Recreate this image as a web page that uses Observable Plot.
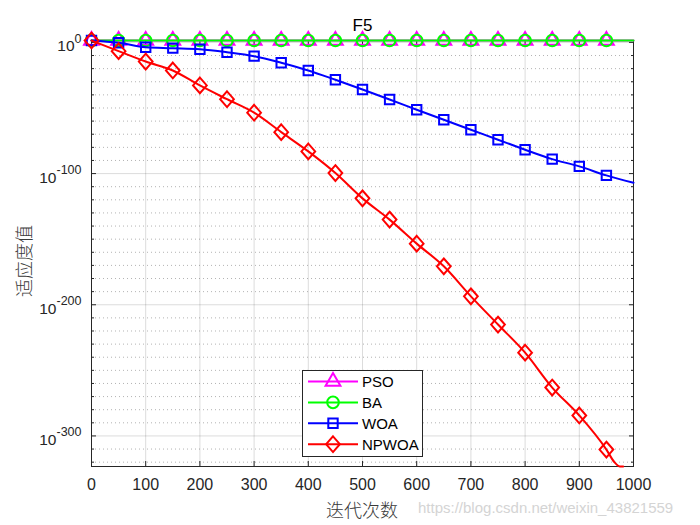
<!DOCTYPE html>
<html>
<head>
<meta charset="utf-8">
<script src="https://cdn.jsdelivr.net/npm/d3@7"></script>
<script src="https://cdn.jsdelivr.net/npm/@observablehq/plot@0.6"></script>
<style>
  html, body { margin: 0; padding: 0; background: #fff; }
  #chart { width: 700px; height: 525px; }
</style>
</head>
<body>
<div id="chart"></div>
<script>
// ---------------- data (values are log10 of fitness) ----------------
const iterations = [0, 50, 100, 150, 200, 250, 300, 350, 400, 450, 500, 550, 600, 650, 700, 750, 800, 850, 900, 950, 1000];
const psoLog = [1.45, 1.45, 1.45, 1.45, 1.45, 1.45, 1.45, 1.45, 1.45, 1.45, 1.45, 1.45, 1.45, 1.45, 1.45, 1.45, 1.45, 1.45, 1.45, 1.45, 1.45];
const baLog  = [1.45, 1.45, 1.45, 1.45, 1.45, 1.45, 1.45, 1.45, 1.45, 1.45, 1.45, 1.45, 1.45, 1.45, 1.45, 1.45, 1.45, 1.45, 1.45, 1.45, 1.45];
const woaLog = [1.45, -0.3, -3.7, -4.4, -5.2, -7.5, -10.5, -15.5, -21.4, -28.5, -35.9, -43.5, -51.3, -59.0, -66.6, -74.2, -81.8, -89.0, -94.5, -101.4, -107.0];
const npwoaIterations = [0, 50, 100, 150, 200, 250, 300, 350, 400, 450, 500, 550, 600, 650, 700, 750, 800, 850, 900, 950, 965, 975, 981];
const npwoaLog = [1.45, -6.7, -14.6, -21.4, -32.8, -43.3, -53.6, -68.4, -83.1, -99.6, -118.9, -135.1, -153.4, -170.7, -193.6, -215.1, -236.5, -263.1, -284.4, -310.4, -320.1, -323.3, -323.3];

const seriesNames   = ["PSO", "BA", "WOA", "NPWOA"];
const seriesColors  = ["#ff00ff", "#00ff00", "#0000ff", "#ff0000"];

const xTicks      = [0, 100, 200, 300, 400, 500, 600, 700, 800, 900, 1000];
const yMajorTicks = [0, -100, -200, -300];
const yMinorTicks = d3.range(-10, -330, -10).filter(v => v % 100 !== 0);
const yDomain     = [-323.3, 1.45];

const titleText  = "F5";
const xLabelText = "迭代次数";
const yLabelText = "适应度值";
const watermarkText = "https://blog.csdn.net/weixin_43821559";

// ---------------- symbols ----------------
const diamondSym = {
  draw(ctx, size) {
    const r = Math.sqrt(size / Math.PI);
    const hh = r * 1.12, hw = r * 0.98;
    ctx.moveTo(0, -hh); ctx.lineTo(hw, 0); ctx.lineTo(0, hh); ctx.lineTo(-hw, 0); ctx.closePath();
  }
};
const seriesSymbols = ["triangle", "circle", "square", diamondSym];
const seriesR = [5.5, 5.8, 5.3, 7.0];

const seriesData = [
  iterations.map((x, i) => ({x, y: psoLog[i]})),
  iterations.map((x, i) => ({x, y: baLog[i]})),
  iterations.map((x, i) => ({x, y: woaLog[i]})),
  npwoaIterations.map((x, i) => ({x, y: npwoaLog[i]}))
];
const isMarker = d => d.x % 50 === 0 && d.x <= 950;

// ---------------- plot ----------------
const W = 700, H = 525, ML = 91, MR = 67, MT = 40, MB = 59;
const axisColor = "#262626";

const seriesMarks = [];
seriesData.forEach((data, i) => {
  seriesMarks.push(Plot.line(data, {x: "x", y: "y", stroke: seriesColors[i], strokeWidth: 2, curve: "monotone-x"}));
  seriesMarks.push(Plot.dot(data.filter(isMarker), {x: "x", y: "y", symbol: seriesSymbols[i], r: seriesR[i], stroke: seriesColors[i], strokeWidth: 2, fill: "none"}));
});

const svg = Plot.plot({
  width: W, height: H,
  marginLeft: ML, marginRight: MR, marginTop: MT, marginBottom: MB,
  style: {fontFamily: "'Liberation Sans', Arial, sans-serif", fontSize: "16px", color: axisColor, background: "#fff", overflow: "visible"},
  x: {domain: [0, 1000], label: null},
  y: {domain: yDomain, label: null},
  marks: [
    Plot.ruleY(yMinorTicks, {stroke: axisColor, strokeOpacity: 0.35, strokeDasharray: "1,3"}),
    Plot.gridX(xTicks, {stroke: axisColor, strokeOpacity: 0.16, strokeWidth: 1}),
    Plot.gridY(yMajorTicks, {stroke: axisColor, strokeOpacity: 0.16, strokeWidth: 1}),
    Plot.frame({stroke: axisColor, strokeWidth: 1}),
    Plot.axisX(xTicks, {anchor: "bottom", tickSize: -5, fill: "none", stroke: axisColor}),
    Plot.axisX(xTicks, {anchor: "top", tickSize: -5, fill: "none", stroke: axisColor}),
    Plot.axisY(yMajorTicks, {anchor: "left", tickSize: -5, fill: "none", stroke: axisColor}),
    Plot.axisY(yMajorTicks, {anchor: "right", tickSize: -5, fill: "none", stroke: axisColor}),
    Plot.axisY(yMinorTicks, {anchor: "left", tickSize: -3, fill: "none", stroke: axisColor}),
    Plot.axisY(yMinorTicks, {anchor: "right", tickSize: -3, fill: "none", stroke: axisColor}),
    ...seriesMarks,
    Plot.axisX(xTicks, {anchor: "bottom", tickSize: 0, tickPadding: 12, tickFormat: d => String(d), fill: axisColor, label: null, fontSize: 16}),
    Plot.axisY(yMajorTicks, {anchor: "left", tickSize: 0, tickPadding: 10, dy: 4, tickFormat: d => "10^" + d, fill: axisColor, label: null, fontSize: 15.5})
  ]
});

// superscript exponents for the y tick labels
d3.select(svg).selectAll('g[aria-label="y-axis tick label"] text').each(function () {
  const t = this.textContent;
  if (!t.startsWith("10^")) return;
  const exp = t.slice(3);
  const sel = d3.select(this);
  sel.text(null);
  sel.append("tspan").text("10");
  sel.append("tspan").attr("dy", "-8.5").attr("font-size", "12.5px").text(exp);
});

const s = d3.select(svg);
// title
s.append("text").attr("x", 362.5).attr("y", 31).attr("text-anchor", "middle")
  .attr("font-size", "17px").attr("fill", "#000").text(titleText);
// x label
s.append("text").attr("x", 362).attr("y", 509).attr("text-anchor", "middle").attr("dominant-baseline", "central")
  .attr("font-family", "'Noto Sans CJK SC', sans-serif").attr("font-weight", 300).attr("font-size", "18px").attr("fill", "#3a3a3a").text(xLabelText);
// y label
s.append("text").attr("transform", "translate(22.5,261) rotate(-90)").attr("text-anchor", "middle").attr("dominant-baseline", "central")
  .attr("font-family", "'Noto Sans CJK SC', sans-serif").attr("font-weight", 300).attr("font-size", "18px").attr("fill", "#3a3a3a").text(yLabelText);

// legend
const lg = s.append("g");
lg.append("rect").attr("x", 302.5).attr("y", 370.5).attr("width", 120).attr("height", 86)
  .attr("fill", "#fff").attr("stroke", axisColor).attr("stroke-width", 1);
seriesNames.forEach((name, i) => {
  const cy = 381.5 + i * 20.9;
  lg.append("line").attr("x1", 308).attr("x2", 358).attr("y1", cy).attr("y2", cy)
    .attr("stroke", seriesColors[i]).attr("stroke-width", 2);
  const sym = typeof seriesSymbols[i] === "string"
    ? {triangle: d3.symbolTriangle, circle: d3.symbolCircle, square: d3.symbolSquare}[seriesSymbols[i]]
    : seriesSymbols[i];
  lg.append("path").attr("transform", `translate(333,${cy})`)
    .attr("d", d3.symbol(sym, seriesR[i] * seriesR[i] * Math.PI)())
    .attr("fill", "none").attr("stroke", seriesColors[i]).attr("stroke-width", 2);
  lg.append("text").attr("x", 362).attr("y", cy).attr("text-anchor", "start").attr("dominant-baseline", "central")
    .attr("font-size", "15px").attr("fill", "#000").text(name);
});

// watermark
s.append("text").attr("x", 418).attr("y", 507).attr("text-anchor", "start").attr("dominant-baseline", "central")
  .attr("font-size", "15px").attr("fill", "#d4d4d4").text(watermarkText);

document.getElementById("chart").appendChild(svg);
</script>
</body>
</html>
